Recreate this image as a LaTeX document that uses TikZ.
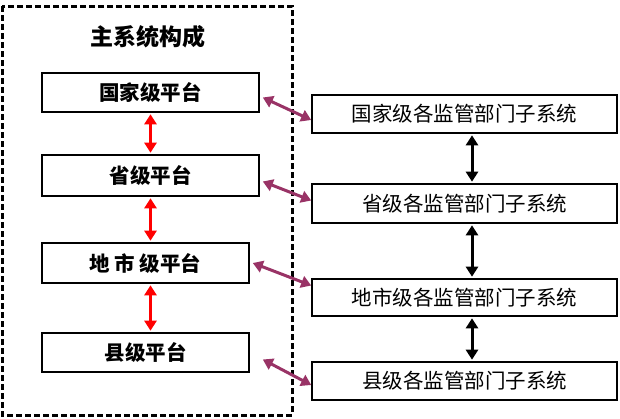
\documentclass[tikz,border=0pt]{standalone}
\usepackage{fontspec}
\setmainfont{Noto Sans CJK SC}
\usetikzlibrary{arrows.meta}

\definecolor{plum}{RGB}{153,51,102}

\begin{document}
\begin{tikzpicture}[x=1pt,y=-1pt,
  pingtai/.style={draw,line width=1.6pt,minimum width=217pt,minimum height=39pt,inner sep=0pt,font=\bfseries\fontsize{20.5}{20.5}\selectfont},
  zixitong/.style={draw,line width=1.6pt,minimum width=305pt,minimum height=38pt,inner sep=0pt,font=\fontsize{20.5}{20.5}\selectfont},
  shuangxiang/.style={line width=3pt,{Triangle[length=10pt,width=12pt]}-{Triangle[length=10pt,width=12pt]},shorten >=1.5pt,shorten <=1.5pt}
]
\useasboundingbox (0,0) rectangle (620,418);
\draw[line width=3pt,dash pattern=on 6pt off 3pt] (2,6) rectangle (292,415);
\node[font=\bfseries\fontsize{23}{23}\selectfont] (zhuxitong) at (148,37) {主系统构成};

\node[pingtai] (guojia) at (150.5,92.5) {国家级平台};
\node[pingtai,minimum height=41pt] (sheng) at (150.5,175.5) {省级平台};
\node[pingtai,minimum width=207pt,minimum height=40pt] (dishi) at (145.5,263) {地 市 级平台};
\node[pingtai,minimum width=207pt] (xian) at (145.5,352.5) {县级平台};

\node[zixitong] (guojiazi) at (464.5,114) {国家级各监管部门子系统};
\node[zixitong,minimum height=39pt] (shengzi) at (464.5,203.5) {省级各监管部门子系统};
\node[zixitong,minimum height=37pt] (dishizi) at (464.5,297.5) {地市级各监管部门子系统};
\node[zixitong] (xianzi) at (464.5,381) {县级各监管部门子系统};

% 平台之间
\draw[shuangxiang,red] (guojia.south) -- (sheng.north);
\draw[shuangxiang,red] (sheng.south) -- (sheng.south |- dishi.north);
\draw[shuangxiang,red] (sheng.south |- dishi.south) -- (sheng.south |- xian.north);

% 子系统之间
\draw[shuangxiang,black] ([xshift=7.5pt]guojiazi.south) -- ([xshift=7.5pt]shengzi.north);
\draw[shuangxiang,black] ([xshift=7.5pt]shengzi.south) -- ([xshift=7.5pt]dishizi.north);
\draw[shuangxiang,black] ([xshift=7.5pt]dishizi.south) -- ([xshift=7.5pt]xianzi.north);

% 平台与子系统
\draw[shuangxiang,plum,shorten <=0pt,shorten >=0pt] ([xshift=3pt,yshift=-5pt]guojia.east) -- ([yshift=-6pt]guojiazi.west);
\draw[shuangxiang,plum,shorten <=0pt,shorten >=0pt] ([xshift=3pt,yshift=-6pt]sheng.east) -- ([yshift=3pt]shengzi.west);
\draw[shuangxiang,plum,shorten <=0pt,shorten >=0pt] ([xshift=3pt]dishi.east) -- ([yshift=12pt]dishizi.west);
\draw[shuangxiang,plum,shorten <=0pt,shorten >=0pt] ([xshift=13pt,yshift=-7pt]xian.east) -- ([yshift=-4pt]xianzi.west);
\end{tikzpicture}
\end{document}
